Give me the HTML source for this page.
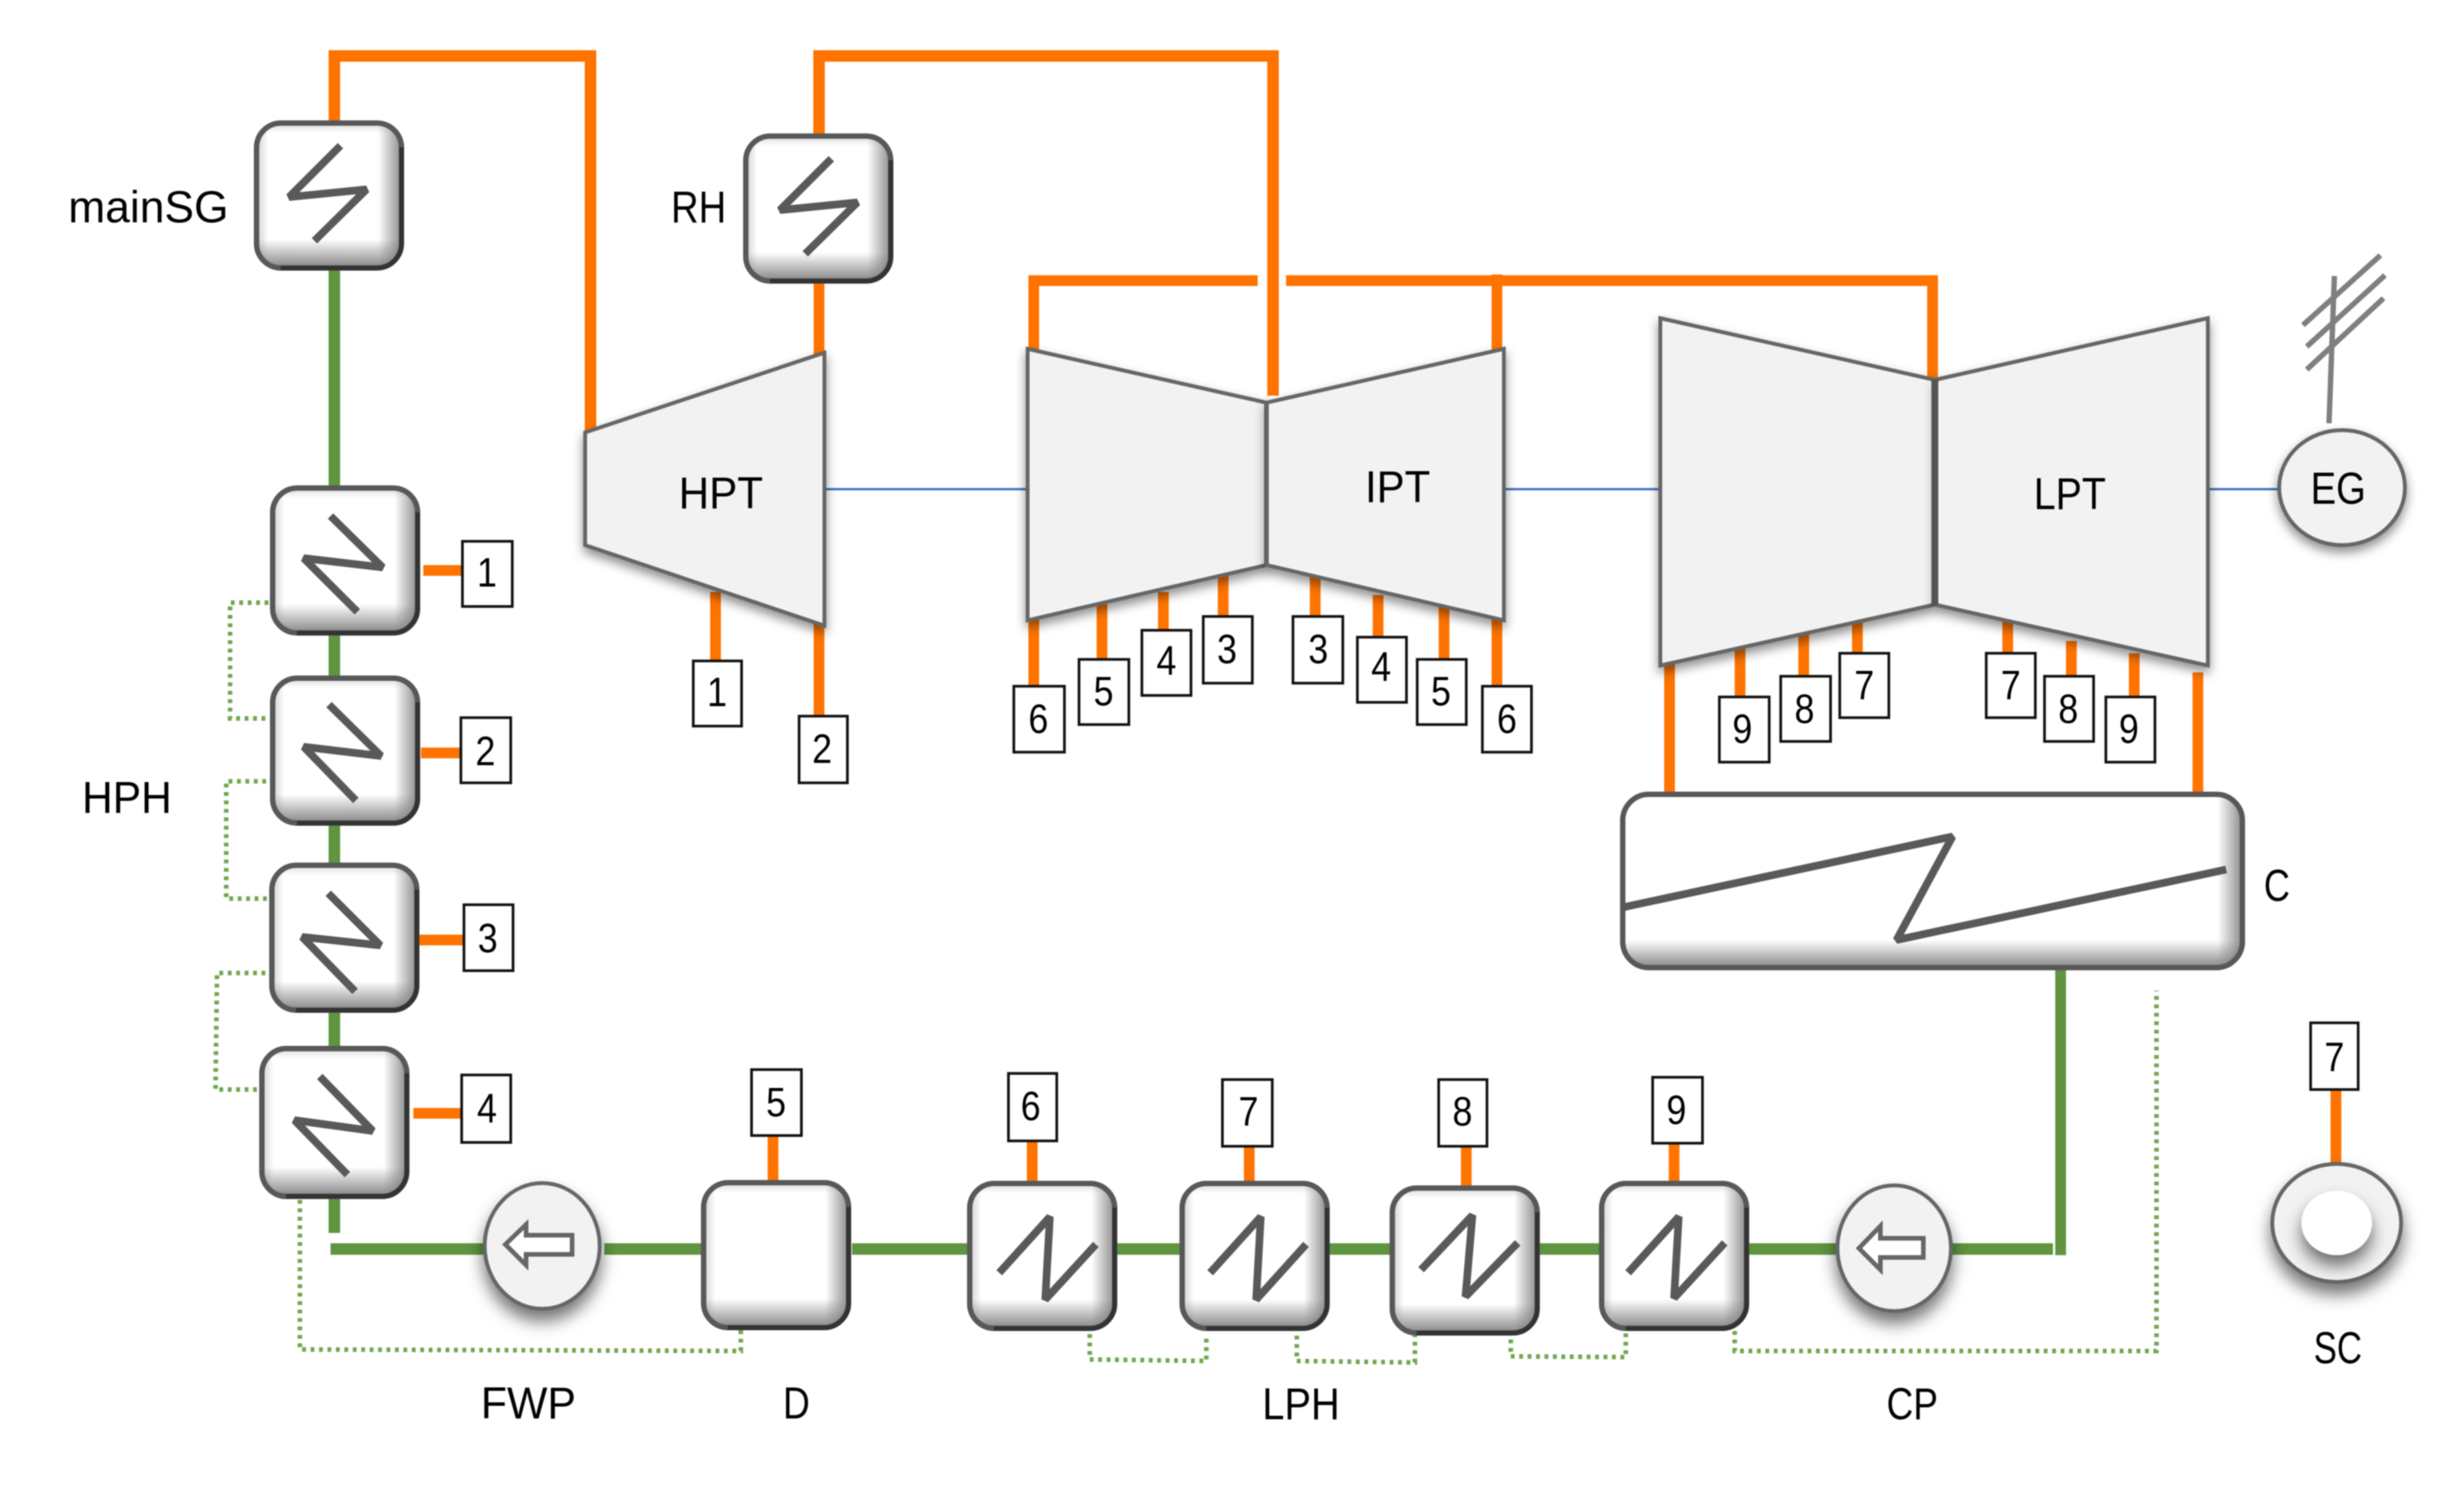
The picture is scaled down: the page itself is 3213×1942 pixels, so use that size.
<!DOCTYPE html>
<html>
<head>
<meta charset="utf-8">
<style>
html,body{margin:0;padding:0;background:#fff;width:3213px;height:1942px;overflow:hidden}
svg{display:block;filter:blur(.7px)}
text{font-family:"Liberation Sans",sans-serif;fill:#000}
.d{font-size:54px;text-anchor:middle}
.l{font-size:58px}
.o{stroke:#ff7300;stroke-width:14;fill:none}
.g{stroke:#5f9440;stroke-width:15;fill:none}
.p{stroke:#6fa84e;stroke-width:6;stroke-dasharray:5 6;fill:none}
.z{stroke:#595959;stroke-width:10;fill:none;stroke-linejoin:bevel}
.t{fill:#f2f2f2;stroke:#666;stroke-width:5;stroke-linejoin:miter;filter:url(#sh)}
.n{fill:#fff;stroke:#111;stroke-width:3.5}
.bl{stroke:#4472c4;stroke-width:3}
</style>
</head>
<body>
<svg width="3213" height="1942" viewBox="0 0 3213 1942" xmlns="http://www.w3.org/2000/svg">
<defs>
<filter id="sh" x="-20%" y="-20%" width="140%" height="150%"><feDropShadow dx="0" dy="7" stdDeviation="7" flood-color="#000" flood-opacity=".45"/></filter>
<filter id="sh2" x="-30%" y="-30%" width="160%" height="170%"><feDropShadow dx="0" dy="14" stdDeviation="11" flood-color="#000" flood-opacity=".55"/></filter>
<linearGradient id="gr" x1="0" x2="1" y1="0" y2="0"><stop offset=".84" stop-color="#777" stop-opacity="0"/><stop offset="1" stop-color="#777" stop-opacity=".85"/></linearGradient>
<linearGradient id="gl" x1="0" x2="1" y1="0" y2="0"><stop offset="0" stop-color="#888" stop-opacity=".4"/><stop offset=".08" stop-color="#888" stop-opacity="0"/></linearGradient>
<linearGradient id="gb" x1="0" x2="0" y1="0" y2="1"><stop offset=".8" stop-color="#777" stop-opacity="0"/><stop offset="1" stop-color="#777" stop-opacity=".9"/></linearGradient>
<linearGradient id="gt" x1="0" x2="0" y1="0" y2="1"><stop offset="0" stop-color="#888" stop-opacity=".3"/><stop offset=".07" stop-color="#888" stop-opacity="0"/></linearGradient>
<linearGradient id="cr" x1="0" x2="1" y1="0" y2="0"><stop offset=".96" stop-color="#777" stop-opacity="0"/><stop offset="1" stop-color="#777" stop-opacity=".85"/></linearGradient>
<linearGradient id="cb" x1="0" x2="0" y1="0" y2="1"><stop offset=".84" stop-color="#777" stop-opacity="0"/><stop offset="1" stop-color="#777" stop-opacity=".9"/></linearGradient>
<g id="b">
<rect x="3.5" y="3.5" width="189" height="189" rx="32" fill="#fff"/>
<rect x="3.5" y="3.5" width="189" height="189" rx="32" fill="url(#gr)"/>
<rect x="3.5" y="3.5" width="189" height="189" rx="32" fill="url(#gl)"/>
<rect x="3.5" y="3.5" width="189" height="189" rx="32" fill="url(#gb)"/>
<rect x="3.5" y="3.5" width="189" height="189" rx="32" fill="url(#gt)"/>
<rect x="3.5" y="3.5" width="189" height="189" rx="32" fill="none" stroke="#585858" stroke-width="7"/>
<path d="M192.5 35V160A32 32 0 0 1 160 192.5H35" fill="none" stroke="#333" stroke-width="6"/>
</g>
</defs>
<rect width="3213" height="1942" fill="#fff"/>

<!-- main steam lines -->
<path class="o" d="M436 160V73H770V565" style="stroke-width:15"/>
<path class="o" d="M1068 176V73H1660V516" style="stroke-width:15"/>
<path class="o" d="M1068 366V462"/>
<path class="o" d="M1348 460V366H1640"/>
<path class="o" d="M1677 366H2520V493"/>
<path class="o" d="M1952 358V460"/>

<!-- green lines -->
<path class="g" d="M436 352V636M436 828V884M436 1077V1128M436 1321V1367M436 1562V1608"/>
<path class="g" d="M431 1629H632M788 1629H917M1111 1629H1266M1457 1629H1543M1734 1629H1817M2007 1629H2090M2280 1629H2396M2546 1629H2677"/>
<path class="g" d="M2687 1263V1637" style="stroke-width:14"/>

<!-- bleed lines -->
<path class="o" d="M552 744H603M549 982H602M546 1226H605M539 1452H602"/>
<path class="o" d="M933 772V862M1068 810V935"/>
<path class="o" d="M1348 805V895M1437 788V860M1517 772V822M1595 750V804M1715 752V804M1797 776V831M1883 790V860M1952 805V895"/>
<path class="o" d="M2269 845V909M2352 826V882M2422 810V852M2618 810V852M2701 836V882M2783 852V909"/>
<path class="o" d="M2177 865V1036M2866 877V1036"/>
<path class="o" d="M1008 1481V1542M1346 1488V1543M1629 1495V1543M1912 1495V1549M2183 1490V1543M3046 1421V1517"/>

<!-- shaft -->
<path class="bl" d="M1075 638H1340M1961 638H2168M2879 638H2970"/>

<!-- dotted drains -->
<path class="p" d="M361 786H300V937H368"/>
<path class="p" d="M358 1019H295V1172H363"/>
<path class="p" d="M346 1269H283L281 1421H349"/>
<path class="p" d="M391 1565V1760L966 1762V1734"/>
<path class="p" d="M1421 1740V1773L1573 1775V1740"/>
<path class="p" d="M1691 1742V1775L1845 1777V1742"/>
<path class="p" d="M1970 1736V1769L2120 1770V1734"/>
<path class="p" d="M2262 1736V1762H2812V1292"/>

<!-- turbines -->
<polygon class="t" points="763,564 1075,460 1075,816 763,711"/>
<polygon class="t" points="1340,455 1651,525 1651,737 1340,809"/>
<polygon class="t" points="1961,455 1652,525 1652,737 1961,809"/>
<polygon class="t" points="2165,415 2521,495 2521,789 2165,868"/>
<polygon class="t" points="2879,415 2525,495 2525,789 2879,868"/>
<path d="M2523 495V789" stroke="#555" stroke-width="9"/>

<!-- heat exchanger boxes -->
<use href="#b" transform="translate(331,157)"/>
<polyline class="z" points="444,190 377,257 478,247 410,314"/>
<use href="#b" transform="translate(969,174)"/>
<polyline class="z" points="1084,207 1017,274 1118,264 1050,331"/>
<use href="#b" transform="translate(352,633)"/>
<polyline class="z" points="431,673 499,740 396,728 466,798"/>
<use href="#b" transform="translate(352,881)"/>
<polyline class="z" points="429,919 497,986 396,974 464,1044"/>
<use href="#b" transform="translate(351,1125)"/>
<polyline class="z" points="428,1165 496,1233 394,1222 463,1293"/>
<use href="#b" transform="translate(338,1364) scale(1,1.02)"/>
<polyline class="z" points="417,1404 486,1475 384,1461 453,1532"/>
<use href="#b" transform="translate(914,1539)"/>
<use href="#b" transform="translate(1261,1540)"/>
<polyline class="z" points="1303,1660 1369,1587 1363,1695 1429,1623"/>
<use href="#b" transform="translate(1538,1540)"/>
<polyline class="z" points="1578,1660 1644,1587 1638,1695 1703,1623"/>
<use href="#b" transform="translate(1812,1546)"/>
<polyline class="z" points="1853,1656 1920,1585 1911,1691 1979,1621"/>
<use href="#b" transform="translate(2085,1540)"/>
<polyline class="z" points="2123,1660 2189,1587 2183,1693 2249,1621"/>

<!-- condenser -->
<rect x="2116" y="1036" width="808" height="226" rx="34" fill="#fff"/>
<rect x="2116" y="1036" width="808" height="226" rx="34" fill="url(#cr)"/>
<rect x="2116" y="1036" width="808" height="226" rx="34" fill="url(#cb)"/>
<rect x="2116" y="1036" width="808" height="226" rx="34" fill="none" stroke="#585858" stroke-width="7"/>
<polyline class="z" points="2118,1183 2546,1091 2473,1226 2903,1134"/>

<!-- pumps -->
<ellipse class="t" cx="707" cy="1625" rx="75" ry="82" style="filter:url(#sh2)"/>
<polygon points="659,1623 686,1597 686,1611 746,1611 746,1636 686,1636 686,1650" fill="#fff" stroke="#666" stroke-width="6"/>
<ellipse class="t" cx="2470" cy="1628" rx="74" ry="82" style="filter:url(#sh2)"/>
<polygon points="2424,1628 2452,1599 2452,1615 2508,1615 2508,1640 2452,1640 2452,1656" fill="#fff" stroke="#666" stroke-width="6"/>
<ellipse class="t" cx="3054" cy="636" rx="82" ry="75"/>
<ellipse class="t" cx="3047" cy="1595" rx="84" ry="77" style="filter:url(#sh2)"/>
<ellipse cx="3047" cy="1595" rx="46" ry="42" fill="#fff" style="filter:url(#sh2)"/>

<!-- antenna -->
<path d="M3044 360L3037 552M3003 424L3104 333M3008 452L3110 359M3008 482L3108 389" stroke="#7f7f7f" stroke-width="7" fill="none"/>

<!-- number boxes -->
<rect class="n" x="603" y="706" width="65" height="85"/><text class="d" x="635" y="765" textLength="26" lengthAdjust="spacingAndGlyphs">1</text>
<rect class="n" x="601" y="936" width="65" height="85"/><text class="d" x="633" y="998" textLength="26" lengthAdjust="spacingAndGlyphs">2</text>
<rect class="n" x="605" y="1180" width="64" height="86"/><text class="d" x="636" y="1242" textLength="26" lengthAdjust="spacingAndGlyphs">3</text>
<rect class="n" x="602" y="1402" width="64" height="88"/><text class="d" x="635" y="1464" textLength="26" lengthAdjust="spacingAndGlyphs">4</text>
<rect class="n" x="904" y="862" width="63" height="85"/><text class="d" x="935" y="921" textLength="26" lengthAdjust="spacingAndGlyphs">1</text>
<rect class="n" x="1042" y="934" width="63" height="87"/><text class="d" x="1072" y="995" textLength="26" lengthAdjust="spacingAndGlyphs">2</text>
<rect class="n" x="1322" y="895" width="66" height="86"/><text class="d" x="1354" y="956" textLength="26" lengthAdjust="spacingAndGlyphs">6</text>
<rect class="n" x="1407" y="860" width="65" height="85"/><text class="d" x="1439" y="920" textLength="26" lengthAdjust="spacingAndGlyphs">5</text>
<rect class="n" x="1489" y="822" width="64" height="85"/><text class="d" x="1521" y="880" textLength="26" lengthAdjust="spacingAndGlyphs">4</text>
<rect class="n" x="1569" y="804" width="64" height="87"/><text class="d" x="1600" y="865" textLength="26" lengthAdjust="spacingAndGlyphs">3</text>
<rect class="n" x="1686" y="804" width="65" height="87"/><text class="d" x="1719" y="865" textLength="26" lengthAdjust="spacingAndGlyphs">3</text>
<rect class="n" x="1770" y="831" width="64" height="85"/><text class="d" x="1801" y="888" textLength="26" lengthAdjust="spacingAndGlyphs">4</text>
<rect class="n" x="1848" y="860" width="64" height="85"/><text class="d" x="1879" y="920" textLength="26" lengthAdjust="spacingAndGlyphs">5</text>
<rect class="n" x="1933" y="895" width="64" height="86"/><text class="d" x="1965" y="956" textLength="26" lengthAdjust="spacingAndGlyphs">6</text>
<rect class="n" x="2242" y="909" width="65" height="85"/><text class="d" x="2272" y="969" textLength="26" lengthAdjust="spacingAndGlyphs">9</text>
<rect class="n" x="2322" y="882" width="65" height="85"/><text class="d" x="2353" y="943" textLength="26" lengthAdjust="spacingAndGlyphs">8</text>
<rect class="n" x="2399" y="852" width="64" height="84"/><text class="d" x="2431" y="912" textLength="26" lengthAdjust="spacingAndGlyphs">7</text>
<rect class="n" x="2590" y="852" width="64" height="84"/><text class="d" x="2622" y="912" textLength="26" lengthAdjust="spacingAndGlyphs">7</text>
<rect class="n" x="2666" y="882" width="64" height="85"/><text class="d" x="2697" y="943" textLength="26" lengthAdjust="spacingAndGlyphs">8</text>
<rect class="n" x="2746" y="909" width="64" height="85"/><text class="d" x="2776" y="969" textLength="26" lengthAdjust="spacingAndGlyphs">9</text>
<rect class="n" x="980" y="1395" width="65" height="86"/><text class="d" x="1012" y="1456" textLength="26" lengthAdjust="spacingAndGlyphs">5</text>
<rect class="n" x="1315" y="1400" width="63" height="88"/><text class="d" x="1344" y="1461" textLength="26" lengthAdjust="spacingAndGlyphs">6</text>
<rect class="n" x="1594" y="1408" width="65" height="87"/><text class="d" x="1628" y="1468" textLength="26" lengthAdjust="spacingAndGlyphs">7</text>
<rect class="n" x="1876" y="1408" width="63" height="87"/><text class="d" x="1907" y="1468" textLength="26" lengthAdjust="spacingAndGlyphs">8</text>
<rect class="n" x="2155" y="1405" width="65" height="86"/><text class="d" x="2186" y="1466" textLength="26" lengthAdjust="spacingAndGlyphs">9</text>
<rect class="n" x="3013" y="1334" width="62" height="87"/><text class="d" x="3044" y="1397" textLength="26" lengthAdjust="spacingAndGlyphs">7</text>

<!-- labels -->
<text class="l" x="89" y="290" textLength="209" lengthAdjust="spacingAndGlyphs">mainSG</text>
<text class="l" x="875" y="290" textLength="72" lengthAdjust="spacingAndGlyphs">RH</text>
<text class="l" x="885" y="663" textLength="110" lengthAdjust="spacingAndGlyphs">HPT</text>
<text class="l" x="1780" y="655" textLength="85" lengthAdjust="spacingAndGlyphs">IPT</text>
<text class="l" x="2652" y="664" textLength="94" lengthAdjust="spacingAndGlyphs">LPT</text>
<text class="l" x="3013" y="657" textLength="72" lengthAdjust="spacingAndGlyphs">EG</text>
<text class="l" x="2952" y="1175" textLength="34" lengthAdjust="spacingAndGlyphs">C</text>
<text class="l" x="107" y="1060" textLength="117" lengthAdjust="spacingAndGlyphs">HPH</text>
<text class="l" x="627" y="1850" textLength="124" lengthAdjust="spacingAndGlyphs">FWP</text>
<text class="l" x="1021" y="1850" textLength="35" lengthAdjust="spacingAndGlyphs">D</text>
<text class="l" x="1646" y="1851" textLength="101" lengthAdjust="spacingAndGlyphs">LPH</text>
<text class="l" x="2460" y="1851" textLength="67" lengthAdjust="spacingAndGlyphs">CP</text>
<text class="l" x="3017" y="1778" textLength="63" lengthAdjust="spacingAndGlyphs">SC</text>
</svg>
</body>
</html>
